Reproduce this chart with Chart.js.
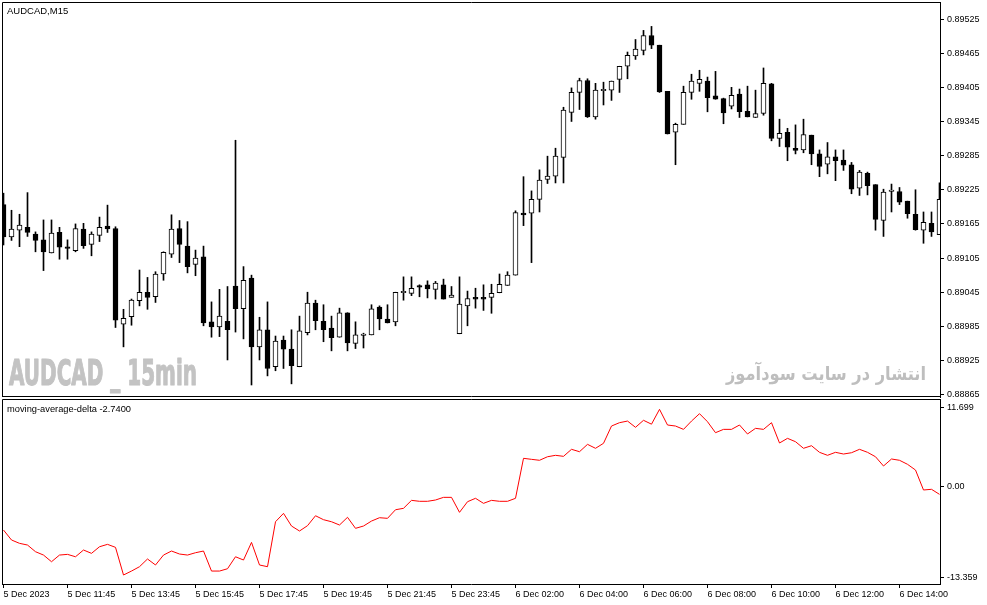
<!DOCTYPE html>
<html><head><meta charset="utf-8">
<script src="https://cdn.jsdelivr.net/npm/chart.js@4.4.1/dist/chart.umd.min.js"></script>
<style>
html,body{margin:0;padding:0;background:#fff;}
#wrap{position:relative;width:987px;height:605px;overflow:hidden;background:#fff;}
canvas{position:absolute;left:0;}
#c1{top:0;}
#c2{top:397px;}
</style></head><body>
<div id="wrap"><canvas id="c1" width="987" height="399"></canvas><canvas id="c2" width="987" height="208"></canvas></div>
<script>
const symbolTitle = "AUDCAD,M15";
const indicatorTitle = "moving-average-delta -2.7400";
const watermarkLeft = "AUDCAD _ 15min";
const watermarkRight = "انتشار در سایت سودآموز";

const xTickIndex = [0,8,16,24,32,40,48,56,64,72,80,88,96,104,112];
const xTickLabels = ["5 Dec 2023","5 Dec 11:45","5 Dec 13:45","5 Dec 15:45","5 Dec 17:45","5 Dec 19:45","5 Dec 21:45","5 Dec 23:45","6 Dec 02:00","6 Dec 04:00","6 Dec 06:00","6 Dec 08:00","6 Dec 10:00","6 Dec 12:00","6 Dec 14:00"];
const priceTicks = [0.89525,0.89465,0.89405,0.89345,0.89285,0.89225,0.89165,0.89105,0.89045,0.88985,0.88925,0.88865];
const deltaTicks = [11.699, 0, -13.359];
const deltaTickLabels = ["11.699","0.00","-13.359"];

const open = [0.89199,0.89142,0.89154,0.89159,0.89147,0.89137,0.89114,0.89150,0.89123,0.89118,
0.89156,0.89129,0.89145,0.89161,0.89157,0.88989,0.89002,0.89030,0.89045,0.89037,
0.89077,0.89112,0.89157,0.89126,0.89094,0.89107,0.88993,0.88984,0.88994,0.89056,
0.89016,0.89070,0.88949,0.88979,0.88914,0.88961,0.88945,0.88914,0.88974,0.89026,
0.88994,0.88982,0.88966,0.89009,0.88955,0.88969,0.88970,0.89019,0.88998,0.88993,
0.89044,0.89043,0.89056,0.89058,0.89050,0.89058,0.89036,0.88972,0.89021,0.89036,
0.89036,0.89036,0.89044,0.89057,0.89075,0.89184,0.89184,0.89208,0.89243,0.89249,
0.89282,0.89361,0.89396,0.89417,0.89353,0.89399,0.89400,0.89419,0.89442,0.89460,
0.89470,0.89496,0.89479,0.89398,0.89326,0.89340,0.89396,0.89412,0.89416,0.89390,
0.89385,0.89372,0.89393,0.89363,0.89352,0.89359,0.89411,0.89315,0.89326,0.89298,
0.89295,0.89321,0.89288,0.89270,0.89283,0.89277,0.89269,0.89228,0.89254,0.89234,
0.89171,0.89222,0.89222,0.89205,0.89182,0.89154,0.89166,0.89146];
const high = [0.89219,0.89189,0.89182,0.89220,0.89151,0.89172,0.89172,0.89159,0.89137,0.89165,
0.89166,0.89151,0.89177,0.89198,0.89160,0.89015,0.89033,0.89084,0.89071,0.89081,
0.89116,0.89181,0.89171,0.89169,0.89119,0.89126,0.89028,0.89050,0.89055,0.89312,
0.89090,0.89075,0.89001,0.89028,0.88968,0.88968,0.88979,0.89003,0.89045,0.89031,
0.89023,0.89003,0.89017,0.89009,0.88993,0.88973,0.89023,0.89021,0.89023,0.89045,
0.89072,0.89072,0.89058,0.89065,0.89064,0.89068,0.89055,0.89072,0.89047,0.89052,
0.89058,0.89059,0.89077,0.89081,0.89188,0.89248,0.89223,0.89260,0.89284,0.89298,
0.89370,0.89404,0.89421,0.89420,0.89412,0.89414,0.89416,0.89442,0.89467,0.89489,
0.89505,0.89512,0.89479,0.89398,0.89342,0.89407,0.89428,0.89435,0.89423,0.89433,
0.89386,0.89405,0.89402,0.89407,0.89400,0.89439,0.89412,0.89349,0.89333,0.89339,
0.89349,0.89321,0.89295,0.89308,0.89295,0.89295,0.89273,0.89259,0.89256,0.89234,
0.89226,0.89235,0.89229,0.89205,0.89225,0.89186,0.89186,0.89237];
const low = [0.89128,0.89136,0.89125,0.89143,0.89116,0.89083,0.89114,0.89103,0.89103,0.89116,
0.89122,0.89109,0.89134,0.89150,0.88983,0.88949,0.88987,0.89021,0.89015,0.89027,
0.89066,0.89106,0.89097,0.89079,0.89074,0.88986,0.88966,0.88967,0.88926,0.88975,
0.88963,0.88882,0.88926,0.88898,0.88907,0.88911,0.88884,0.88914,0.88970,0.88979,
0.88958,0.88942,0.88966,0.88942,0.88946,0.88947,0.88970,0.88979,0.88991,0.88986,
0.89031,0.89039,0.89037,0.89035,0.89033,0.89033,0.89036,0.88972,0.88986,0.89017,
0.89013,0.89008,0.89044,0.89057,0.89075,0.89162,0.89097,0.89186,0.89236,0.89237,
0.89237,0.89345,0.89366,0.89352,0.89349,0.89374,0.89382,0.89396,0.89420,0.89454,
0.89462,0.89473,0.89396,0.89323,0.89269,0.89340,0.89384,0.89398,0.89362,0.89384,
0.89341,0.89367,0.89352,0.89353,0.89352,0.89356,0.89311,0.89301,0.89276,0.89288,
0.89290,0.89269,0.89248,0.89253,0.89241,0.89259,0.89218,0.89215,0.89216,0.89154,
0.89143,0.89186,0.89199,0.89175,0.89154,0.89131,0.89143,0.89146];
const close = [0.89142,0.89156,0.89163,0.89150,0.89136,0.89116,0.89149,0.89124,0.89122,0.89157,
0.89127,0.89147,0.89159,0.89156,0.88996,0.88999,0.89031,0.89045,0.89036,0.89077,
0.89115,0.89156,0.89129,0.89090,0.89105,0.88991,0.88984,0.89003,0.88979,0.89016,
0.89066,0.88949,0.88979,0.88911,0.88959,0.88945,0.88916,0.88977,0.89026,0.88995,
0.88979,0.88965,0.89009,0.88956,0.88970,0.88970,0.89016,0.88998,0.88991,0.89045,
0.89045,0.89052,0.89054,0.89051,0.89061,0.89033,0.89040,0.89024,0.89034,0.89033,
0.89033,0.89043,0.89059,0.89075,0.89185,0.89181,0.89208,0.89242,0.89249,0.89284,
0.89365,0.89396,0.89417,0.89353,0.89400,0.89400,0.89416,0.89442,0.89461,0.89472,
0.89496,0.89479,0.89397,0.89323,0.89340,0.89396,0.89416,0.89419,0.89387,0.89384,
0.89360,0.89391,0.89362,0.89353,0.89359,0.89412,0.89315,0.89324,0.89300,0.89294,
0.89322,0.89288,0.89266,0.89283,0.89276,0.89268,0.89226,0.89256,0.89232,0.89173,
0.89221,0.89223,0.89203,0.89183,0.89155,0.89168,0.89151,0.89208];
const delta = [-6.36,-7.82,-8.31,-8.56,-9.54,-10.03,-11.01,-10.03,-9.93,-10.28,
-9.29,-9.78,-8.81,-8.46,-8.90,-12.96,-12.38,-11.74,-10.61,-11.49,
-10.03,-9.44,-9.88,-10.03,-9.69,-9.44,-12.38,-12.38,-12.04,-10.28,
-10.76,-8.17,-11.49,-11.74,-5.14,-3.91,-5.77,-6.50,-5.72,-4.26,
-4.84,-5.14,-5.62,-4.49,-6.11,-5.77,-5.04,-4.55,-4.64,-3.38,
-3.17,-2.00,-2.14,-2.14,-1.95,-1.56,-1.56,-3.76,-2.20,-1.70,
-2.44,-2.00,-2.14,-2.14,-1.70,4.17,4.02,3.88,4.40,4.61,
4.46,5.49,5.14,6.22,5.64,6.37,8.91,9.40,9.64,8.72,
9.75,9.18,11.36,9.06,8.91,8.42,9.64,10.72,9.54,7.93,
8.42,8.42,9.06,7.74,8.57,8.42,9.40,6.42,7.10,6.61,
5.64,6.02,5.05,4.61,5.05,4.80,4.99,5.49,5.05,4.40,
3.04,4.07,3.88,3.29,2.45,-0.48,-0.38,-1.12];

const X_MIN = -0.1875, X_MAX = 117.0625;
const AXIS_FONT = {family: "'Liberation Sans', Arial, sans-serif", size: 9};

function fitText(ctx, text, font, color, left, right, baseline, rtl, strokeW) {
  ctx.save();
  ctx.font = font; ctx.fillStyle = color; ctx.strokeStyle = color;
  ctx.textBaseline = 'alphabetic'; ctx.textAlign = 'left';
  if (rtl) ctx.direction = 'rtl';
  const w = ctx.measureText(text).width;
  ctx.translate(left, baseline);
  ctx.scale((right - left) / w, 1);
  const px = rtl ? w : 0;
  if (rtl) ctx.textAlign = 'right';
  ctx.fillText(text, px, 0);
  if (strokeW) { ctx.lineWidth = strokeW; ctx.lineJoin = 'round'; ctx.strokeText(text, px, 0); }
  ctx.restore();
}

const idx = open.map((_, i) => i);

const mainPlugin = {
  id: 'mainDeco',
  beforeDatasetsDraw(chart) {
    const ctx = chart.ctx;
    fitText(ctx, watermarkLeft, "bold 35px 'DejaVu Sans', sans-serif", '#c3c3c3', 9, 197, 384.5, false, 1.2);
    fitText(ctx, watermarkRight, "bold 19px 'DejaVu Sans', sans-serif", '#bebebe', 726, 926, 380, true, 0);
  },
  afterDraw(chart) {
    const ctx = chart.ctx;
    ctx.save();
    ctx.strokeStyle = '#000'; ctx.lineWidth = 1;
    ctx.beginPath();
    ctx.moveTo(2.5, 397); ctx.lineTo(2.5, 2.5); ctx.lineTo(940.5, 2.5);
    ctx.moveTo(2, 396.5); ctx.lineTo(941, 396.5);
    ctx.stroke();
    ctx.fillStyle = '#000';
    ctx.font = "9.5px 'Liberation Sans', Arial, sans-serif";
    ctx.textBaseline = 'middle'; ctx.textAlign = 'left';
    ctx.fillText(symbolTitle, 7, 11.5);
    ctx.restore();
  }
};

new Chart(document.getElementById('c1'), {
  type: 'bar',
  data: {
    datasets: [
      {
        label: 'body',
        data: idx.map(i => ({x: i, y: [open[i], close[i]]})),
        backgroundColor: idx.map(i => close[i] >= open[i] ? '#ffffff' : '#000000'),
        borderColor: '#000000',
        borderWidth: 1,
        borderSkipped: false,
        barThickness: 5,
        minBarLength: 1.5,
        grouped: false,
        order: 0
      },
      {
        label: 'wick',
        data: idx.map(i => ({x: i, y: [low[i], high[i]]})),
        backgroundColor: '#000000',
        borderWidth: 0,
        barThickness: 1,
        grouped: false,
        order: 1
      }
    ]
  },
  options: {
    responsive: false,
    animation: false,
    events: [],
    layout: {padding: {top: 2, left: 2, right: 0, bottom: 2}},
    plugins: {legend: {display: false}, tooltip: {enabled: false}},
    scales: {
      x: {type: 'linear', min: X_MIN, max: X_MAX, offset: false, bounds: 'ticks', grid: {offset: false}, display: false},
      y: {
        position: 'right',
        min: 0.888609, max: 0.895549,
        afterBuildTicks: s => { s.ticks = priceTicks.map(v => ({value: v})); },
        afterFit: s => { s.width = 47; s.paddingTop = 0; s.paddingBottom = 0; },
        ticks: {
          font: AXIS_FONT, color: '#000', padding: 3,
          callback: v => Number(v).toFixed(5)
        },
        grid: {display: true, drawOnChartArea: false, drawTicks: true, tickLength: 4, color: '#000'},
        border: {display: true, color: '#000'}
      }
    }
  },
  plugins: [mainPlugin]
});

const subPlugin = {
  id: 'subDeco',
  afterDraw(chart) {
    const ctx = chart.ctx;
    ctx.save();
    ctx.strokeStyle = '#000'; ctx.lineWidth = 1;
    ctx.beginPath();
    ctx.moveTo(2.5, 187); ctx.lineTo(2.5, 2.5); ctx.lineTo(941, 2.5);
    ctx.stroke();
    ctx.fillStyle = '#000';
    ctx.font = "9.3px 'Liberation Sans', Arial, sans-serif";
    ctx.textBaseline = 'middle'; ctx.textAlign = 'left';
    ctx.fillText(indicatorTitle, 7, 12);
    ctx.restore();
  }
};

new Chart(document.getElementById('c2'), {
  type: 'line',
  data: {
    datasets: [{
      label: 'moving-average-delta',
      data: idx.map(i => ({x: i, y: delta[i]})),
      borderColor: '#ff0000',
      borderWidth: 1,
      pointRadius: 0,
      tension: 0,
      fill: false
    }]
  },
  options: {
    responsive: false,
    animation: false,
    events: [],
    layout: {padding: {top: 3, left: 2, right: 0, bottom: 0}},
    plugins: {legend: {display: false}, tooltip: {enabled: false}},
    scales: {
      x: {
        type: 'linear', min: X_MIN, max: X_MAX, offset: false,
        afterBuildTicks: s => { s.ticks = xTickIndex.map(v => ({value: v})); },
        afterFit: s => { s.height = 21; s.paddingLeft = 0; s.paddingRight = 0; },
        ticks: {
          font: AXIS_FONT, color: '#000', padding: 1, align: 'start',
          autoSkip: false, maxRotation: 0, minRotation: 0,
          callback: (v, i) => xTickLabels[i]
        },
        grid: {display: true, drawOnChartArea: false, drawTicks: true, tickLength: 4, color: '#000'},
        border: {display: true, color: '#000'}
      },
      y: {
        position: 'right',
        min: -14.28, max: 12.73,
        afterBuildTicks: s => { s.ticks = deltaTicks.map(v => ({value: v})); },
        afterFit: s => { s.width = 47; s.paddingTop = 0; s.paddingBottom = 0; },
        ticks: {
          font: AXIS_FONT, color: '#000', padding: 3,
          callback: (v, i) => deltaTickLabels[i]
        },
        grid: {display: true, drawOnChartArea: false, drawTicks: true, tickLength: 4, color: '#000'},
        border: {display: true, color: '#000'}
      }
    }
  },
  plugins: [subPlugin]
});
</script>
</body></html>
